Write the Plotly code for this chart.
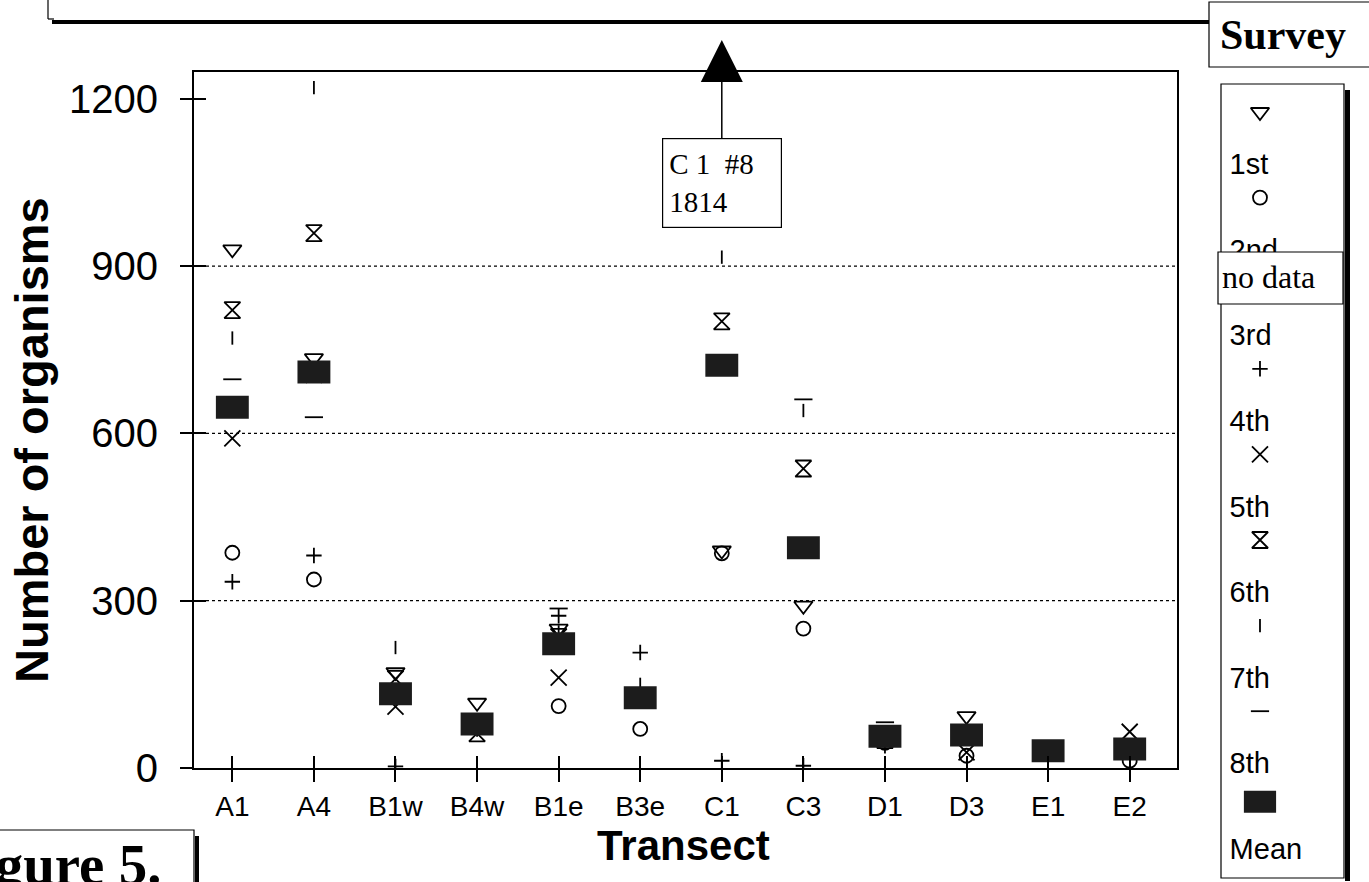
import plotly.graph_objects as go

# ---- survey counts per transect ----
transects = ["A1", "A4", "B1w", "B4w", "B1e", "B3e", "C1", "C3", "D1", "D3", "E1", "E2"]
survey_1st = [930, 735, 172, 117, 250, 125, 390, 291, 60, 93, 35, 35]
survey_2nd = [386, 338, 130, 75, 111, 70, 385, 250, 45, 22, 25, 13]
survey_3rd = [None] * 12  # no data collected
survey_4th = [334, 381, 3, 70, 273, 207, 13, 4, 40, 59, 30, 30]
survey_5th = [591, 705, 110, 75, 162, 128, 725, 395, 55, 28, 28, 65]
survey_6th = [821, 959, 160, 62, 235, 125, 801, 537, 50, 59, 32, 35]
survey_7th = [771, 1220, 216, 80, 244, 150, 916, 641, 65, 59, 30, 30]
survey_8th = [697, 629, 140, 75, 286, 110, 1814, 661, 82, 59, 37, 30]
survey_mean = [647, 710, 133, 79, 223, 126, 722, 395, 57, 59, 31, 34]

y_ticks = [0, 300, 600, 900, 1200]
grid_values = [300, 600, 900]
legend_labels = ["1st", "2nd", "3rd", "4th", "5th", "6th", "7th", "8th", "Mean"]

# ---- page geometry helpers (pixels -> paper fractions) ----
W, H = 1369, 882


def px(x):
    return x / W


def py(y):
    return 1 - y / H


SANS = "Liberation Sans"
SERIF = "Liberation Serif"
INK = "black"

x_range = [-0.47, 11.58]
y_range = [0, 1248]
main_x_dom = [px(194), px(1177)]
main_y_dom = [py(768), py(72)]

series = [
    (survey_1st, "triangle-down-open", 16),
    (survey_2nd, "circle-open", 14),
    (survey_3rd, None, 0),
    (survey_4th, "cross-thin-open", 11),
    (survey_5th, "x-thin-open", 16),
    (survey_6th, "hourglass-open", 16),
    (survey_7th, "line-ns-open", 9.5),
    (survey_8th, "line-ew-open", 13),
]
MEAN_FILL = "#1c1c1c"
mean_marker = dict(symbol="line-ew", size=23.5, color=MEAN_FILL,
                   line=dict(color=MEAN_FILL, width=23))

fig = go.Figure()

for vals, sym, size in series:
    if sym is None:
        continue
    fig.add_trace(go.Scatter(
        x=transects, y=vals, mode="markers", cliponaxis=True,
        marker=dict(symbol=sym, size=size, color=INK, line=dict(color=INK, width=1.8)),
        hoverinfo="x+y", showlegend=False))

fig.add_trace(go.Scatter(x=transects, y=survey_mean, mode="markers",
                         marker=mean_marker, showlegend=False))

# overlay axes carry the inner half of the crossing tick marks
fig.add_trace(go.Scatter(x=transects, y=survey_mean, xaxis="x2", yaxis="y2",
                         mode="markers", marker=dict(opacity=0, size=1),
                         hoverinfo="skip", showlegend=False))

# ---- legend panel drawn on its own small axes ----
LEG_TOP, LEG_BOTTOM = 84, 878
LEG_FIRST, LEG_STEP, SYMBOL_LIFT = 83, 85.6, 55
label_y = [LEG_FIRST + i * LEG_STEP for i in range(len(legend_labels))]
fig.add_trace(go.Scatter(
    x=[0.07] * len(legend_labels), y=label_y, text=legend_labels, mode="text",
    textposition="middle right", textfont=dict(family=SANS, size=29, color=INK),
    xaxis="x3", yaxis="y3", hoverinfo="skip", showlegend=False, cliponaxis=False))
for i, (vals, sym, size) in enumerate(series):
    if sym is None:
        continue
    fig.add_trace(go.Scatter(
        x=[0.317], y=[label_y[i] - SYMBOL_LIFT], mode="markers", xaxis="x3", yaxis="y3",
        marker=dict(symbol=sym, size=size, color=INK, line=dict(color=INK, width=1.8)),
        hoverinfo="skip", showlegend=False, cliponaxis=False))
fig.add_trace(go.Scatter(
    x=[0.317], y=[label_y[-1] - SYMBOL_LIFT + 5], mode="markers", xaxis="x3", yaxis="y3",
    marker=dict(symbol="line-ew", size=23, color=MEAN_FILL, line=dict(color=MEAN_FILL, width=22)),
    hoverinfo="skip", showlegend=False, cliponaxis=False))

# ---- shapes: grid, frames and boxes ----
shapes = []
for v in grid_values:
    shapes.append(dict(type="line", xref="x domain", yref="y", x0=0, x1=1, y0=v, y1=v,
                       line=dict(color=INK, width=1.3, dash="dot"), layer="below"))


def seg(x0, y0, x1, y1, w=1.2, layer="above"):
    return dict(type="line", xref="paper", yref="paper", x0=px(x0), x1=px(x1),
                y0=py(y0), y1=py(y1), line=dict(color=INK, width=w), layer=layer)


def box(x0, y0, x1, y1, fill="rgba(0,0,0,0)", w=1.2, layer="below"):
    return dict(type="rect", xref="paper", yref="paper", x0=px(x0), x1=px(x1),
                y0=py(y1), y1=py(y0), fillcolor=fill, line=dict(color=INK, width=w), layer=layer)


# header frame across the top
shapes += [seg(48, -5, 48, 19), seg(48, 19, 54, 19), seg(52, 22, 1209, 22, w=4)]
# "Survey" heading box
shapes.append(box(1209, 2, 1385, 67, fill="white"))
# legend frame with heavy shadow edge
shapes.append(box(1221, LEG_TOP, 1344, LEG_BOTTOM))
shapes.append(seg(1347.5, 90, 1347.5, 881, w=5))
# "no data" patch over the 3rd-survey entry
shapes.append(box(1218, 252, 1343, 304, fill="white", layer="above"))
# figure-number box at the lower left
shapes.append(box(-10, 830, 194, 895))
shapes.append(seg(197, 836, 197, 885, w=4))


def label(text, x, y, size, family=SANS, **kw):
    d = dict(text=text, x=px(x), y=py(y), xref="paper", yref="paper", showarrow=False,
             xanchor="center", yanchor="middle", font=dict(family=family, size=size, color=INK))
    d.update(kw)
    return d


c1 = transects.index("C1")
annotations = [
    label("<b>Number of organisms</b>", 31, 440, 47, textangle=-90),
    label("<b>Transect</b>", 683, 845, 42),
    label("<b>Survey</b>", 1283, 35, 42, family=SERIF),
    label("no data", 1220, 277, 32, family=SERIF, xanchor="left"),
    label("<b>Figure 5.</b>", 163, 864, 57, family=SERIF, xanchor="right"),
    dict(text=f"C 1&nbsp;&nbsp;#8<br>{survey_8th[c1]}", x=transects[c1], xref="x",
         y=py(40), yref="paper", ax=0, ay=143, axref="pixel", ayref="pixel",
         showarrow=True, arrowhead=2, arrowsize=5.6, arrowwidth=1.5, arrowcolor=INK,
         align="left", width=106, height=76, borderpad=6, bordercolor=INK,
         borderwidth=1.2, bgcolor="white", font=dict(family=SERIF, size=29, color=INK)),
]

fig.update_layout(
    template="none",
    width=W, height=H,
    margin=dict(l=0, r=0, t=0, b=0, pad=0),
    paper_bgcolor="white", plot_bgcolor="rgba(0,0,0,0)",
    showlegend=False,
    xaxis=dict(domain=main_x_dom, type="category", categoryorder="array",
               categoryarray=transects, range=x_range, anchor="y",
               showline=True, linewidth=2, linecolor=INK, mirror=True,
               ticks="outside", ticklen=12, tickwidth=1.5, tickcolor=INK,
               tickfont=dict(family=SANS, size=28, color=INK),
               showgrid=False, zeroline=False, automargin=False),
    yaxis=dict(domain=main_y_dom, range=y_range, anchor="x", tickvals=y_ticks,
               showline=True, linewidth=2, linecolor=INK, mirror=True,
               ticks="outside", ticklen=12, tickwidth=1.5, tickcolor=INK,
               ticklabelstandoff=14,
               tickfont=dict(family=SANS, size=40, color=INK),
               showgrid=False, zeroline=False, automargin=False),
    xaxis2=dict(overlaying="x", anchor="y", side="bottom", type="category",
                categoryorder="array", categoryarray=transects, range=x_range,
                ticks="inside", ticklen=12, tickwidth=1.5, tickcolor=INK,
                showticklabels=False, showgrid=False, showline=False, zeroline=False),
    yaxis2=dict(overlaying="y", anchor="x", side="left", range=y_range, tickvals=y_ticks,
                ticks="inside", ticklen=12, tickwidth=1.5, tickcolor=INK,
                showticklabels=False, showgrid=False, showline=False, zeroline=False),
    xaxis3=dict(domain=[px(1221), px(1344)], range=[0, 1], anchor="y3", visible=False,
                fixedrange=True),
    yaxis3=dict(domain=[py(LEG_BOTTOM), py(LEG_TOP)], range=[LEG_BOTTOM - LEG_TOP, 0],
                anchor="x3", visible=False, fixedrange=True),
    shapes=shapes,
    annotations=annotations,
)

fig.write_html("out.html")
